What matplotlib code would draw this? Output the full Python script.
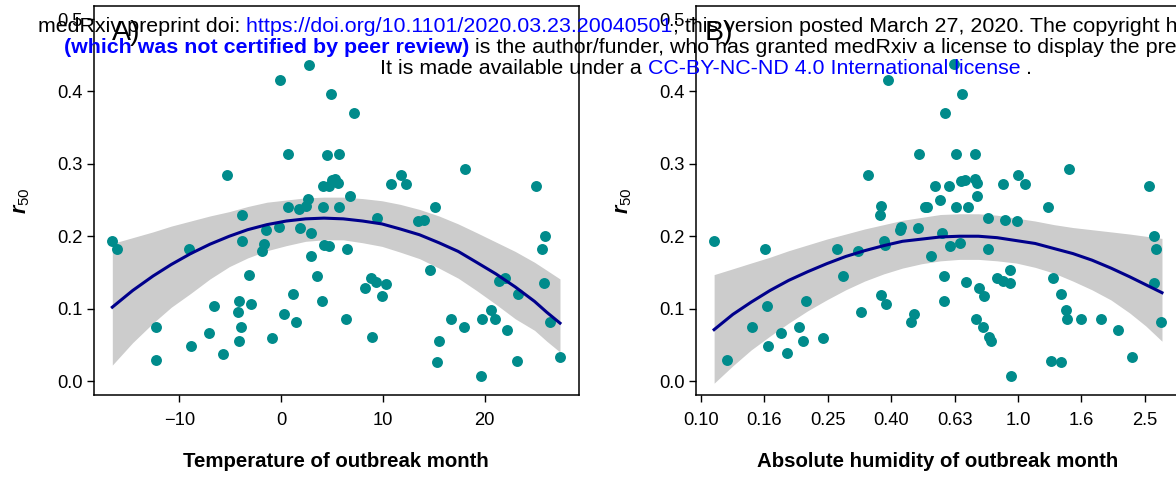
import numpy as np
import matplotlib
matplotlib.use("Agg")
import matplotlib.pyplot as plt
from matplotlib.text import Annotation

plt.rcParams['font.family'] = ['Liberation Sans', 'DejaVu Sans']
plt.rcParams['mathtext.fontset'] = 'custom'
plt.rcParams['mathtext.rm'] = 'Liberation Sans'
plt.rcParams['mathtext.it'] = 'Liberation Sans:italic'
plt.rcParams['mathtext.bf'] = 'Liberation Sans:bold'
plt.rcParams['mathtext.bfit'] = 'Liberation Sans:bold:italic'

# ---------------- data: scatter points ----------------
temp = [-16.6, -16.1, -12.3, -12.3, -9.1, -8.9, -7.1, -6.6, -5.7, -5.3,
        -4.1, -4.2, -4.0, -4.1, -3.9, -3.9, -3.2, -3.0, -1.9, -1.7,
        -1.5, -0.9, -0.2, -0.1, 0.3, 0.7, 0.7, 1.2, 1.5, 1.7,
        1.8, 2.4, 2.6, 2.7, 2.9, 2.9, 3.5, 4.0, 4.1, 4.1,
        4.2, 4.5, 4.7, 4.7, 4.9, 5.0, 5.3, 5.6, 5.7, 5.7,
        6.4, 6.5, 6.8, 7.2, 8.2, 8.8, 8.9, 9.3, 9.4, 9.9,
        10.3, 10.8, 11.8, 12.3, 13.4, 14.0, 14.6, 15.1, 15.3, 15.5,
        16.7, 18.0, 18.1, 19.6, 19.7, 20.6, 21.0, 21.4, 22.0, 22.2,
        23.2, 23.3, 25.0, 25.6, 25.8, 25.9, 26.4, 27.4]
r50_temp = [0.193, 0.182, 0.074, 0.029, 0.183, 0.048, 0.066, 0.103, 0.038, 0.284,
            0.111, 0.095, 0.075, 0.055, 0.229, 0.194, 0.146, 0.106, 0.179, 0.189,
            0.209, 0.060, 0.213, 0.416, 0.093, 0.313, 0.241, 0.120, 0.081, 0.238,
            0.212, 0.242, 0.251, 0.436, 0.204, 0.173, 0.145, 0.111, 0.240, 0.269,
            0.188, 0.312, 0.186, 0.270, 0.397, 0.277, 0.279, 0.273, 0.313, 0.241,
            0.085, 0.182, 0.255, 0.370, 0.129, 0.142, 0.061, 0.137, 0.225, 0.118,
            0.134, 0.272, 0.285, 0.272, 0.221, 0.222, 0.153, 0.241, 0.026, 0.055,
            0.086, 0.075, 0.293, 0.007, 0.086, 0.098, 0.085, 0.138, 0.142, 0.070,
            0.028, 0.120, 0.269, 0.183, 0.136, 0.201, 0.081, 0.033]

humid = [0.110, 0.121, 0.145, 0.159, 0.161, 0.163, 0.179, 0.187, 0.204, 0.209,
         0.215, 0.243, 0.269, 0.280, 0.313, 0.319, 0.337, 0.370, 0.370, 0.367,
         0.379, 0.381, 0.383, 0.388, 0.424, 0.427, 0.458, 0.468, 0.484, 0.488,
         0.509, 0.516, 0.531, 0.546, 0.568, 0.575, 0.582, 0.582, 0.587, 0.607,
         0.611, 0.627, 0.635, 0.637, 0.658, 0.662, 0.667, 0.681, 0.684, 0.693,
         0.729, 0.731, 0.735, 0.743, 0.743, 0.755, 0.776, 0.780, 0.802, 0.802,
         0.807, 0.820, 0.861, 0.897, 0.897, 0.910, 0.946, 0.946, 0.948, 0.991,
         0.998, 1.050, 1.242, 1.271, 1.288, 1.361, 1.368, 1.419, 1.422, 1.452,
         1.574, 1.832, 2.065, 2.280, 2.582, 2.679, 2.716, 2.685, 2.818]
r50_humid = [0.193, 0.029, 0.074, 0.183, 0.103, 0.048, 0.066, 0.039, 0.075, 0.055,
             0.111, 0.060, 0.183, 0.145, 0.179, 0.095, 0.284, 0.119, 0.242, 0.229,
             0.193, 0.188, 0.106, 0.416, 0.209, 0.213, 0.081, 0.093, 0.212, 0.313,
             0.240, 0.241, 0.173, 0.270, 0.250, 0.205, 0.145, 0.111, 0.370, 0.269,
             0.186, 0.438, 0.313, 0.240, 0.190, 0.276, 0.397, 0.278, 0.137, 0.241,
             0.313, 0.279, 0.086, 0.273, 0.255, 0.129, 0.075, 0.118, 0.225, 0.182,
             0.061, 0.055, 0.142, 0.272, 0.138, 0.222, 0.153, 0.135, 0.007, 0.221,
             0.285, 0.272, 0.241, 0.028, 0.142, 0.026, 0.120, 0.098, 0.085, 0.293,
             0.086, 0.086, 0.070, 0.033, 0.269, 0.201, 0.183, 0.136, 0.081]

# ---------------- data: fitted curves and 95% bands ----------------
fit_temp_x = [-16.6, -14.6, -12.6, -10.8, -8.9, -7.0, -5.1, -3.3, -1.4, 0.5, 2.4, 4.2,
              6.1, 8.0, 9.9, 11.7, 13.6, 15.5, 17.4, 19.2, 21.1, 23.0, 24.9, 26.1, 27.4]
fit_temp_y = [0.102, 0.125, 0.145, 0.161, 0.176, 0.189, 0.200, 0.209, 0.216, 0.221, 0.224, 0.225,
              0.224, 0.221, 0.217, 0.210, 0.202, 0.191, 0.179, 0.164, 0.148, 0.130, 0.110, 0.095, 0.080]
fit_temp_hi = [0.190, 0.198, 0.206, 0.214, 0.221, 0.228, 0.234, 0.241, 0.247, 0.250, 0.253, 0.254,
               0.254, 0.252, 0.249, 0.244, 0.237, 0.228, 0.217, 0.205, 0.192, 0.179, 0.164, 0.153, 0.141]
fit_temp_lo = [0.022, 0.053, 0.080, 0.102, 0.121, 0.141, 0.158, 0.170, 0.180, 0.187, 0.193, 0.195,
               0.195, 0.191, 0.186, 0.178, 0.169, 0.156, 0.142, 0.125, 0.106, 0.086, 0.070, 0.055, 0.040]

fit_humid_x = [0.110, 0.126, 0.144, 0.165, 0.189, 0.217, 0.249, 0.286, 0.328, 0.377, 0.432, 0.496,
               0.569, 0.653, 0.750, 0.859, 0.986, 1.132, 1.298, 1.490, 1.710, 1.963, 2.249, 2.529, 2.844]
fit_humid_y = [0.071, 0.092, 0.109, 0.125, 0.139, 0.151, 0.162, 0.172, 0.180, 0.187, 0.193, 0.196,
               0.199, 0.200, 0.200, 0.198, 0.194, 0.190, 0.183, 0.176, 0.167, 0.156, 0.144, 0.133, 0.122]
fit_humid_hi = [0.147, 0.155, 0.163, 0.171, 0.180, 0.188, 0.196, 0.203, 0.210, 0.216, 0.222, 0.226,
                0.230, 0.231, 0.231, 0.229, 0.225, 0.221, 0.216, 0.212, 0.209, 0.206, 0.203, 0.200, 0.197]
fit_humid_lo = [-0.003, 0.021, 0.043, 0.062, 0.080, 0.097, 0.112, 0.126, 0.138, 0.148, 0.156, 0.162,
                0.166, 0.168, 0.168, 0.166, 0.163, 0.157, 0.149, 0.138, 0.126, 0.112, 0.094, 0.076, 0.055]

y_ticks = [0.0, 0.1, 0.2, 0.3, 0.4, 0.5]
y_ticklabels = ["0.0", "0.1", "0.2", "0.3", "0.4", "0.5"]
temp_ticks = [-10, 0, 10, 20]
temp_ticklabels = ["\u221210", "0", "10", "20"]
humid_ticks = [0.1, 0.1585, 0.2512, 0.3981, 0.631, 1.0, 1.585, 2.512]
humid_ticklabels = ["0.10", "0.16", "0.25", "0.40", "0.63", "1.0", "1.6", "2.5"]

W, H = 1176, 479
fig = plt.figure(figsize=(W / 100, H / 100), dpi=100)

def px_axes(x0, y0, x1, y1):
    return fig.add_axes([x0 / W, 1 - y1 / H, (x1 - x0) / W, (y1 - y0) / H])

axA = px_axes(94, 6, 578.7, 395)
axB = px_axes(695.7, 6, 1180.4, 395)

PT = '#008B8B'
LINE = '#00008B'
BAND = '#CCCCCC'

# Panel A
axA.fill_between(fit_temp_x, fit_temp_lo, fit_temp_hi, color=BAND, lw=0, zorder=1)
axA.scatter(temp, r50_temp, s=62, color=PT, lw=0, zorder=2)
axA.plot(fit_temp_x, fit_temp_y, color=LINE, lw=2.2, zorder=3, solid_joinstyle='round')
axA.set_xlim(-18.4, 29.24)
axA.set_xticks(temp_ticks)
axA.set_xticklabels(temp_ticklabels)

# Panel B (log scale)
axB.fill_between(fit_humid_x, fit_humid_lo, fit_humid_hi, color=BAND, lw=0, zorder=1)
axB.scatter(humid, r50_humid, s=62, color=PT, lw=0, zorder=2)
axB.plot(fit_humid_x, fit_humid_y, color=LINE, lw=2.2, zorder=3, solid_joinstyle='round')
axB.set_xscale('log')
axB.set_xlim(10 ** -1.0167, 10 ** 0.512)
axB.set_xticks(humid_ticks)
axB.set_xticklabels(humid_ticklabels)
axB.xaxis.set_minor_locator(matplotlib.ticker.NullLocator())

for ax, xl in ((axA, "Temperature of outbreak month"),
               (axB, "Absolute humidity of outbreak month")):
    ax.set_ylim(-0.0193, 0.518)
    ax.set_yticks(y_ticks)
    ax.set_yticklabels(y_ticklabels)
    ax.tick_params(axis='both', direction='out', length=5, width=1.0,
                   labelsize=13.2, colors='black', pad=3)
    ax.tick_params(axis='x', pad=7)
    for sp in ax.spines.values():
        sp.set_linewidth(1.1)
        sp.set_color('black')
    ax.set_xlabel(xl, fontsize=14.7, fontweight='bold', labelpad=17)
    ax.set_ylabel(r'$\mathbfit{r}_{\mathrm{50}}$', fontsize=15.5, labelpad=18)

fig.text(112 / W, 1 - 39.5 / H, "A)", fontsize=20.5, va='baseline', ha='left')
fig.text(705 / W, 1 - 39.5 / H, "B)", fontsize=20.5, va='baseline', ha='left')

# medRxiv watermark
BLUE = '#0000FF'
WFS = 15.4

def chain(x, y, parts):
    first = fig.text(x / W, 1 - y / H, parts[0][0], color=parts[0][1],
                     fontsize=WFS, fontweight=parts[0][2], va='baseline', ha='left')
    prev = first
    for s, c, w in parts[1:]:
        prev = fig.add_artist(Annotation(s, xy=(1, 0), xycoords=prev,
                                         va='bottom', ha='left', color=c,
                                         fontsize=WFS, fontweight=w))
    return first

chain(38, 31.5, [("medRxiv preprint doi:", 'black', 'normal'),
                 (" https://doi.org/10.1101/2020.03.23.20040501", BLUE, 'normal'),
                 ("; this version posted March 27, 2020. The copyright holder for this preprint", 'black', 'normal')])
chain(64, 53, [("(which was not certified by peer review)", BLUE, 'bold'),
               (" is the author/funder, who has granted medRxiv a license to display the preprint in perpetuity.", 'black', 'normal')])
chain(380, 74, [("It is made available under a", 'black', 'normal'),
                (" CC-BY-NC-ND 4.0 International license", BLUE, 'normal'),
                (" .", 'black', 'normal')])

fig.savefig("out.png", dpi=100)
